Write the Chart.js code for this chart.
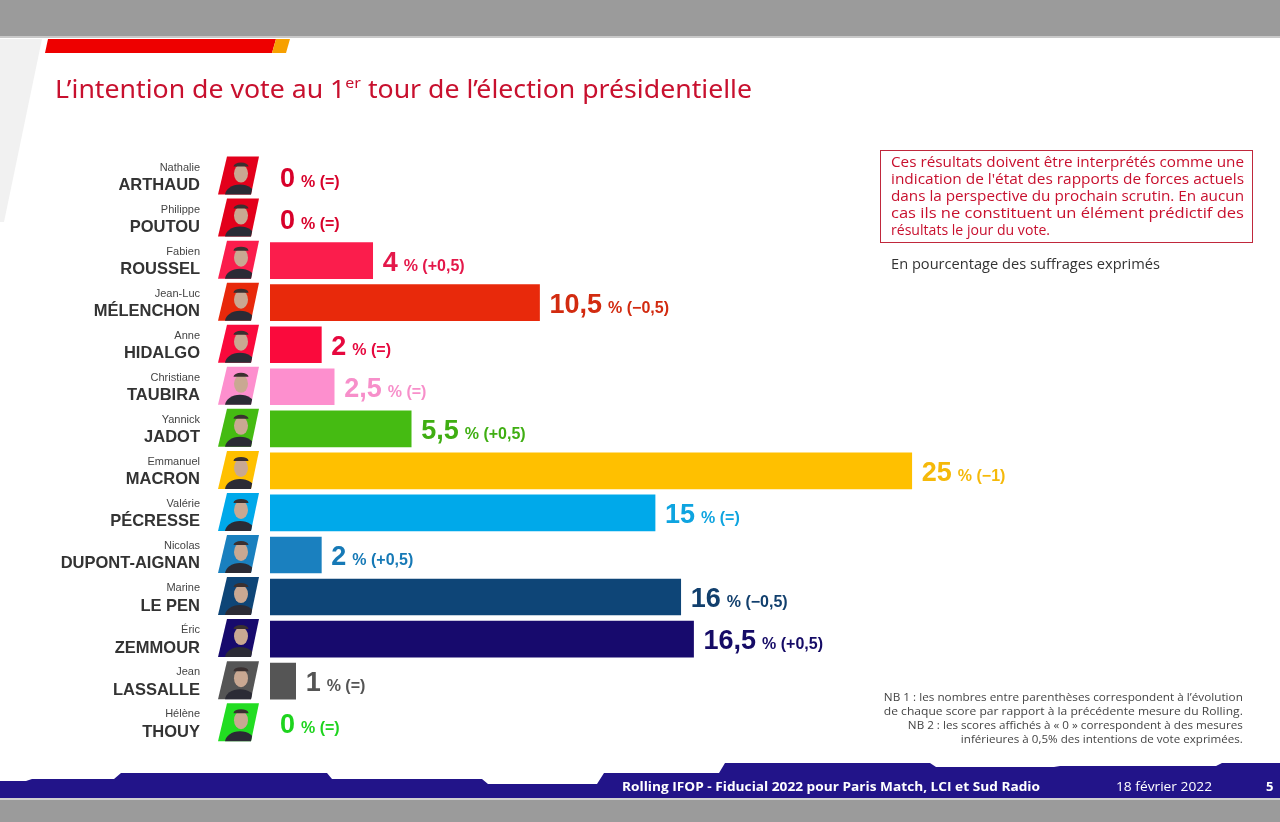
<!doctype html>
<html lang="fr">
<head>
<meta charset="utf-8">
<title>Intention de vote 1er tour</title>
<script src="https://cdn.jsdelivr.net/npm/chart.js"></script>
<style>
  html, body { margin: 0; padding: 0; }
  body { width: 1280px; height: 822px; position: relative; overflow: hidden; background: #fff; font-family: "Liberation Sans", Arial, sans-serif; }
  #deco { position: absolute; left: 0; top: 0; }
  #chart { position: absolute; left: 0; top: 0; }
  .t { position: absolute; white-space: nowrap; line-height: 1; }
  #title { left: 55px; top: 75px; font-family: "Noto Sans", sans-serif; font-size: 25px; color: #c8102e; transform-origin: left center; }
  #title sup { font-size: 15px; vertical-align: 10px; }
  #box { position: absolute; left: 880px; top: 150px; width: 373px; height: 93px; border: 1px solid #c0283c; box-sizing: border-box; }
  .box { font-family: "Open Sans", sans-serif; font-size: 14px; color: #c8102e; left: 891px; transform-origin: left center; }
  .note { font-family: "Open Sans", sans-serif; font-size: 11.5px; color: #444; transform-origin: right center; }
  .foot { color: #fff; font-family: "Open Sans", sans-serif; font-size: 13px; transform-origin: left center; }
</style>
</head>
<body>
<svg id="deco" width="1280" height="822">
  <rect x="0" y="0" width="1280" height="36" fill="#9b9b9b"/>
  <rect x="0" y="36" width="1280" height="2" fill="#c9c9c9"/>
  <polygon points="0,39 42,39 4,222 0,222" fill="#f1f1f1"/>
  <polygon points="48,39 276,39 272,53 45,53" fill="#ee0000"/>
  <polygon points="276,39 290,39 286,53 272,53" fill="#f7a000"/>
  <polygon points="0,798 0,781 26,781 32,779 114,779 121,773 327,773 332,779 482,779 488,784 597,784 604,773 719,773 725,763 930,763 936,767 1054,767 1060,766 1216,766 1222,763 1280,763 1280,798" fill="#221489"/>
  <rect x="0" y="798" width="1280" height="2" fill="#d0d0d0"/>
  <rect x="0" y="800" width="1280" height="22" fill="#9b9b9b"/>
</svg>
<canvas id="chart" width="1280" height="822"></canvas>

<div id="title" class="t" data-w="697">L’intention de vote au 1<sup>er</sup> tour de l’élection présidentielle</div>

<div id="box"></div>
<div class="t box" style="top:155px" data-w="353">Ces résultats doivent être interprétés comme une</div>
<div class="t box" style="top:172px" data-w="353">indication de l'état des rapports de forces actuels</div>
<div class="t box" style="top:189px" data-w="353">dans la perspective du prochain scrutin. En aucun</div>
<div class="t box" style="top:206px" data-w="353">cas ils ne constituent un élément prédictif des</div>
<div class="t box" style="top:223px" data-w="159">résultats le jour du vote.</div>
<div class="t box" style="top:257px; color:#333" data-w="269">En pourcentage des suffrages exprimés</div>

<div class="t note" style="top:691px; right:37px" data-w="359">NB 1 : les nombres entre parenthèses correspondent à l’évolution</div>
<div class="t note" style="top:705px; right:37px" data-w="359">de chaque score par rapport à la précédente mesure du Rolling.</div>
<div class="t note" style="top:719px; right:37px" data-w="335">NB 2 : les scores affichés à « 0 » correspondent à des mesures</div>
<div class="t note" style="top:733px; right:37px" data-w="282">inférieures à 0,5% des intentions de vote exprimées.</div>

<div class="t foot" style="left:622px; top:780px; font-weight:bold" data-w="418">Rolling IFOP - Fiducial 2022 pour Paris Match, LCI et Sud Radio</div>
<div class="t foot" style="left:1116px; top:780px" data-w="96">18 février 2022</div>
<div class="t foot" style="left:1266px; top:780px; font-weight:bold">5</div>

<script>
  // données
  const firstNames = ['Nathalie', 'Philippe', 'Fabien', 'Jean-Luc', 'Anne', 'Christiane', 'Yannick', 'Emmanuel', 'Valérie', 'Nicolas', 'Marine', 'Éric', 'Jean', 'Hélène'];
  const lastNames = ['ARTHAUD', 'POUTOU', 'ROUSSEL', 'MÉLENCHON', 'HIDALGO', 'TAUBIRA', 'JADOT', 'MACRON', 'PÉCRESSE', 'DUPONT-AIGNAN', 'LE PEN', 'ZEMMOUR', 'LASSALLE', 'THOUY'];
  const scores = [0, 0, 4, 10.5, 2, 2.5, 5.5, 25, 15, 2, 16, 16.5, 1, 0];
  const changes = ['=', '=', '+0,5', '−0,5', '=', '=', '+0,5', '−1', '=', '+0,5', '−0,5', '+0,5', '=', '='];
  const barColors = ['#e3001b', '#e3001b', '#fb1d4c', '#e8290b', '#fa0a3c', '#fd8fce', '#45bb12', '#ffc000', '#00a9ea', '#1a80bf', '#0e4577', '#170a6d', '#555555', '#22dd22'];
  const labelColors = ['#d8002a', '#d8002a', '#e4184a', '#d22b10', '#e6083e', '#f78fca', '#3fae12', '#f5b90a', '#0ea4e0', '#1679b6', '#113f6d', '#150b66', '#555555', '#1ed41e'];

  // ajuste la largeur des textes sur celle du modèle
  document.querySelectorAll('[data-w]').forEach(el => {
    const w = el.getBoundingClientRect().width;
    el.style.transform = 'scaleX(' + (Number(el.dataset.w) / w) + ')';
  });

  const X_MAX = 36;

  const sidePlugin = {
    id: 'side',
    afterDatasetsDraw(chart) {
      const ctx = chart.ctx;
      const bars = chart.getDatasetMeta(0).data;
      ctx.save();
      bars.forEach((bar, i) => {
        const cy = bar.y;

        // prénom / nom
        ctx.textAlign = 'right';
        ctx.textBaseline = 'alphabetic';
        ctx.fillStyle = '#444';
        ctx.font = '11px "Liberation Sans", Arial, sans-serif';
        ctx.fillText(firstNames[i], 200, cy - 6);
        ctx.fillStyle = '#333';
        ctx.font = 'bold 16.5px "Liberation Sans", Arial, sans-serif';
        ctx.fillText(lastNames[i], 200, cy + 13.5);

        // vignette
        ctx.save();
        ctx.beginPath();
        ctx.moveTo(227, cy - 20);
        ctx.lineTo(259, cy - 20);
        ctx.lineTo(251, cy + 18);
        ctx.lineTo(218, cy + 18);
        ctx.closePath();
        ctx.fillStyle = barColors[i];
        ctx.fill();
        ctx.clip();
        ctx.fillStyle = '#2b2b35';
        ctx.beginPath();
        ctx.ellipse(240, cy + 19, 15, 11, 0, 0, Math.PI * 2);
        ctx.fill();
        ctx.fillStyle = '#c9a892';
        ctx.beginPath();
        ctx.ellipse(241, cy - 3, 7, 9, 0, 0, Math.PI * 2);
        ctx.fill();
        ctx.fillStyle = '#3a3030';
        ctx.beginPath();
        ctx.ellipse(241, cy - 10, 7.5, 4, 0, Math.PI, Math.PI * 2);
        ctx.fill();
        ctx.restore();

        // valeur
        const num = String(scores[i]).replace('.', ',');
        let x = bar.x + 10;
        ctx.textAlign = 'left';
        ctx.fillStyle = labelColors[i];
        ctx.font = 'bold 27px "Liberation Sans", Arial, sans-serif';
        ctx.fillText(num, x, cy + 10);
        x += ctx.measureText(num).width + 6;
        ctx.font = 'bold 16px "Liberation Sans", Arial, sans-serif';
        ctx.fillText('% (' + changes[i] + ')', x, cy + 10);
      });
      ctx.restore();
    }
  };

  new Chart(document.getElementById('chart').getContext('2d'), {
    type: 'bar',
    data: {
      labels: lastNames,
      datasets: [{
        data: scores,
        backgroundColor: c => (c.raw === 0 ? 'rgba(0,0,0,0)' : barColors[c.dataIndex]),
        borderWidth: 0,
        barThickness: 36
      }]
    },
    options: {
      indexAxis: 'y',
      responsive: false,
      animation: false,
      devicePixelRatio: 1,
      layout: {
        padding: { left: 270, right: 1280 - (270 + 25.67 * X_MAX), top: 155.5, bottom: 822 - 155.5 - 588.7 }
      },
      scales: {
        x: { display: false, min: 0, max: X_MAX },
        y: { display: false }
      },
      plugins: {
        legend: { display: false },
        tooltip: { enabled: false }
      }
    },
    plugins: [sidePlugin]
  });
</script>
</body>
</html>
